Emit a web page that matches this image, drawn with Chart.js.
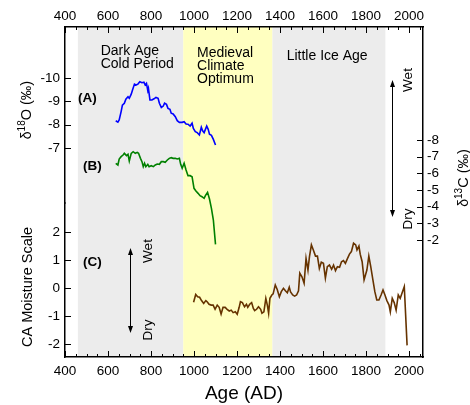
<!DOCTYPE html>
<html>
<head>
<meta charset="utf-8">
<script src="https://cdn.jsdelivr.net/npm/chart.js@4.4.0/dist/chart.umd.min.js"></script>
<style>
  html, body { margin: 0; padding: 0; background: #fff; }
  #wrap { width: 470px; height: 405px; }
</style>
</head>
<body>
<div id="wrap"><canvas id="chart" width="470" height="405"></canvas></div>
<script>
// Values
const xTickLabels = [400, 600, 800, 1000, 1200, 1400, 1600, 1800, 2000];

// (A) delta 18O
const o18Years = [636, 646, 652, 661, 667, 676, 683, 693, 699, 708, 714, 723, 730, 739, 748, 758, 767, 773, 779, 785,
  788, 795, 804, 814, 823, 833, 839, 848, 857, 863, 872, 879, 888, 894, 903, 913, 922, 932, 945, 954,
  963, 972, 982, 991, 997, 1006, 1015, 1025, 1034, 1040, 1047, 1053, 1059, 1066, 1072, 1081, 1090, 1100];
const o18Values = [-8.17, -8.11, -8.20, -8.56, -8.84, -8.92, -9.09, -9.20, -9.13, -9.31, -9.49, -9.74, -9.70, -9.74, -9.84, -9.80, -9.82, -9.70, -9.77, -9.46,
  -9.56, -9.06, -9.06, -9.11, -9.17, -9.13, -8.92, -8.74, -8.80, -8.92, -8.87, -8.70, -8.66, -8.49, -8.46, -8.34, -8.17, -8.10, -8.10, -8.13,
  -8.03, -8.02, -7.94, -8.06, -7.84, -7.70, -7.66, -7.56, -7.89, -7.74, -7.66, -7.80, -7.94, -7.80, -7.59, -7.54, -7.37, -7.13];

// (B) delta 13C
const c13Years = [636, 646, 652, 661, 670, 676, 686, 693, 699, 708, 717, 727, 736, 742, 751, 758, 764, 770, 776, 785,
  791, 801, 811, 820, 829, 839, 848, 857, 866, 876, 885, 894, 903, 913, 922, 932, 938, 945, 954, 963,
  972, 982, 991, 1000, 1009, 1019, 1028, 1037, 1047, 1053, 1063, 1072, 1081, 1090, 1100];
const c13Values = [-6.60, -6.50, -6.86, -7.00, -7.10, -7.20, -7.06, -7.14, -6.74, -7.20, -7.30, -7.20, -7.26, -7.20, -6.90, -6.70, -6.40, -6.60, -6.40, -6.54,
  -6.40, -6.46, -6.40, -6.50, -6.56, -6.54, -6.70, -6.70, -6.66, -6.80, -6.90, -6.94, -6.90, -6.90, -6.86, -6.90, -6.54, -6.30, -6.60, -6.20,
  -5.86, -5.86, -5.80, -5.10, -4.94, -4.80, -4.66, -4.60, -4.50, -4.66, -4.86, -4.46, -3.90, -3.20, -1.74];

// (C) CA moisture scale
const moistYears = [998, 1008, 1017, 1026, 1035, 1045, 1055, 1061, 1070, 1080, 1089, 1098, 1108, 1117, 1126, 1135, 1145, 1154, 1164, 1173,
  1182, 1192, 1201, 1210, 1216, 1225, 1235, 1244, 1250, 1259, 1268, 1276, 1282, 1291, 1300, 1310, 1316, 1325, 1334, 1341,
  1347, 1353, 1362, 1368, 1378, 1387, 1397, 1406, 1416, 1425, 1434, 1443, 1449, 1459, 1468, 1477, 1486, 1492, 1502, 1512,
  1521, 1530, 1537, 1546, 1555, 1565, 1574, 1583, 1592, 1602, 1611, 1620, 1630, 1640, 1649, 1658, 1667, 1677, 1686, 1695,
  1704, 1714, 1723, 1732, 1742, 1752, 1758, 1767, 1773, 1782, 1791, 1804, 1813, 1822, 1832, 1841, 1850, 1860, 1870, 1879,
  1888, 1897, 1907, 1913, 1922, 1931, 1940, 1950, 1959, 1968, 1978, 1991];
const moistValues = [-0.51, -0.23, -0.31, -0.33, -0.45, -0.55, -0.45, -0.49, -0.58, -0.61, -0.61, -0.76, -0.61, -0.69, -0.93, -0.69, -0.69, -0.76, -0.82, -0.79,
  -0.88, -0.85, -0.94, -0.69, -0.49, -0.52, -0.67, -0.58, -0.69, -0.58, -0.52, -0.73, -0.81, -0.76, -0.67, -0.76, -0.90, -0.85, -0.37, -0.61,
  -0.90, -0.37, -0.25, -0.21, 0.11, -0.05, -0.31, -0.13, -0.01, -0.10, -0.17, 0.03, -0.14, -0.25, -0.29, -0.25, -0.10, 0.53, 0.40, 0.17,
  1.06, 0.64, 1.12, 1.54, 1.36, 1.14, 1.14, 0.70, 0.92, 0.88, 0.35, 0.76, 0.82, 0.67, 0.82, 0.62, 0.76, 0.74, 0.94, 0.98,
  0.88, 1.06, 1.21, 1.30, 1.60, 1.54, 1.36, 1.50, 1.21, 0.94, 0.29, 0.64, 1.14, 0.76, 0.29, -0.13, -0.43, -0.43, -0.25, -0.07,
  -0.25, -0.45, -0.61, -0.85, -0.37, -0.52, -0.79, -0.25, -0.37, -0.17, 0.05, -2.05];

const o18Ticks = [-10, -9, -8, -7];
const c13Ticks = [-8, -7, -6, -5, -4, -3, -2];
const moistTicks = [-2, -1, 0, 1, 2];

// climate periods (shaded bands)
const periodStarts = [460, 950, 1365];
const periodEnds = [950, 1365, 1890];
const periodNames = [['Dark Age', 'Cold Period'], ['Medieval', 'Climate', 'Optimum'], ['Little Ice Age']];

const FONT = '"Liberation Sans", Arial, Helvetica, sans-serif';
Chart.defaults.font.family = FONT;
Chart.defaults.color = '#000';

function range(a, b, step) {
    const out = [];
    for (let v = a; v <= b + 1e-9; v += step) out.push(Math.round(v * 100) / 100);
    return out;
}

function points(xs, ys) {
    return xs.map((x, i) => ({ x: x, y: ys[i] }));
}

const frame = { display: true, color: '#000', width: 1.5 };
const noGrid = { display: false, drawTicks: false };
const tickFont = { size: 13.5 };

// shaded period bands behind everything
const bandsPlugin = {
    id: 'bands',
    beforeDraw(chart) {
        const { ctx, chartArea: a, scales: { x } } = chart;
        const colors = ['#ececec', '#ffffc0', '#ececec'];
        ctx.save();
        ctx.fillStyle = '#fff';
        ctx.fillRect(0, 0, chart.width, chart.height);
        periodStarts.forEach((s, i) => {
            const x0 = x.getPixelForValue(s);
            const x1 = x.getPixelForValue(periodEnds[i]);
            ctx.fillStyle = colors[i];
            ctx.fillRect(x0, a.top, x1 - x0, a.bottom - a.top);
        });
        ctx.restore();
    }
};

// tick marks pointing into the plot
const inwardTicksPlugin = {
    id: 'inwardTicks',
    afterDraw(chart) {
        const { ctx, chartArea: a } = chart;
        ctx.save();
        ctx.strokeStyle = '#000';
        ctx.lineWidth = 1;
        ['x', 'x2', 'yA', 'yB', 'yC'].forEach(id => {
            const s = chart.scales[id];
            s.ticks.forEach(t => {
                const len = t.label !== '' ? 6 : 3;
                const p = Math.round(s.getPixelForValue(t.value)) + 0.5;
                ctx.beginPath();
                if (s.position === 'bottom') { ctx.moveTo(p, a.bottom); ctx.lineTo(p, a.bottom - len); }
                else if (s.position === 'top') { ctx.moveTo(p, a.top); ctx.lineTo(p, a.top + len); }
                else if (s.position === 'left') { ctx.moveTo(a.left, p); ctx.lineTo(a.left + len, p); }
                else { ctx.moveTo(a.right, p); ctx.lineTo(a.right - len, p); }
                ctx.stroke();
            });
        });
        ctx.restore();
    }
};

function drawVertical(ctx, cx, cy, parts) {
    // parts: [text, size, raise]; text reads bottom to top, baseline at cx
    ctx.save();
    ctx.translate(cx, cy);
    ctx.rotate(-Math.PI / 2);
    ctx.textBaseline = 'alphabetic';
    ctx.textAlign = 'left';
    let total = 0;
    parts.forEach(p => { ctx.font = p[1] + 'px ' + FONT; total += ctx.measureText(p[0]).width; });
    let pos = -total / 2;
    parts.forEach(p => {
        ctx.font = p[1] + 'px ' + FONT;
        ctx.fillText(p[0], pos, -p[2]);
        pos += ctx.measureText(p[0]).width;
    });
    ctx.restore();
}

function drawArrow(ctx, x, y0, y1) {
    ctx.beginPath();
    ctx.moveTo(x + 0.5, y0 + 4);
    ctx.lineTo(x + 0.5, y1 - 4);
    ctx.stroke();
    ctx.beginPath();
    ctx.moveTo(x + 0.5, y0); ctx.lineTo(x - 2, y0 + 7); ctx.lineTo(x + 3, y0 + 7); ctx.closePath();
    ctx.moveTo(x + 0.5, y1); ctx.lineTo(x - 2, y1 - 7); ctx.lineTo(x + 3, y1 - 7); ctx.closePath();
    ctx.fill();
}

// period names, panel letters, axis titles and wet/dry arrows
const annotationsPlugin = {
    id: 'annotations',
    afterDraw(chart) {
        const { ctx, scales: { x } } = chart;
        ctx.save();
        ctx.fillStyle = '#000';
        ctx.strokeStyle = '#000';
        ctx.lineWidth = 1;
        ctx.textBaseline = 'alphabetic';
        ctx.textAlign = 'left';

        ctx.font = '14px ' + FONT;
        const labelX = [566, 1014, 1431];
        const labelY = [55, 57, 60];
        periodNames.forEach((lines, i) => {
            lines.forEach((txt, j) => ctx.fillText(txt, x.getPixelForValue(labelX[i]), labelY[i] + j * 13));
        });

        ctx.font = 'bold 13.5px ' + FONT;
        ctx.fillText('(A)', 78, 102);
        ctx.fillText('(B)', 83, 170);
        ctx.fillText('(C)', 83, 266);

        drawVertical(ctx, 31, 110, [['δ', 14, 0], ['18', 10, 6], ['O (‰)', 14.5, 0]]);
        drawVertical(ctx, 32, 287, [['CA Moisture Scale', 14.5, 0]]);
        drawVertical(ctx, 468, 178, [['δ', 14, 0], ['13', 10, 6], ['C (‰)', 14.5, 0]]);

        drawArrow(ctx, 392, 80, 217);
        drawArrow(ctx, 130, 248, 333);
        drawVertical(ctx, 412, 80, [['Wet', 13.5, 0]]);
        drawVertical(ctx, 412, 219, [['Dry', 13.5, 0]]);
        drawVertical(ctx, 152, 251, [['Wet', 13.5, 0]]);
        drawVertical(ctx, 152, 330, [['Dry', 13.5, 0]]);
        ctx.restore();
    }
};

const xTicks = {
    autoSkip: false, maxRotation: 0, font: tickFont, color: '#000',
    callback: v => xTickLabels.includes(v) ? String(v) : ''
};

new Chart(document.getElementById('chart'), {
    type: 'line',
    data: {
        datasets: [
            { label: 'd18O', data: points(o18Years, o18Values), xAxisID: 'x', yAxisID: 'yA',
              borderColor: '#0000ff', borderWidth: 1.6, pointRadius: 0, tension: 0 },
            { label: 'd13C', data: points(c13Years, c13Values), xAxisID: 'x', yAxisID: 'yB',
              borderColor: '#008000', borderWidth: 1.6, pointRadius: 0, tension: 0 },
            { label: 'moisture', data: points(moistYears, moistValues), xAxisID: 'x', yAxisID: 'yC',
              borderColor: '#663300', borderWidth: 1.6, pointRadius: 0, tension: 0 }
        ]
    },
    options: {
        responsive: false,
        animation: false,
        events: [],
        layout: { padding: 0 },
        plugins: { legend: { display: false }, tooltip: { enabled: false } },
        scales: {
            x: {
                type: 'linear', position: 'bottom', min: 400, max: 2065,
                grid: noGrid, border: frame,
                afterBuildTicks: s => { s.ticks = range(400, 2050, 50).map(v => ({ value: v })); },
                afterFit: s => { s.height = 48; },
                ticks: Object.assign({ padding: 6 }, xTicks),
                title: { display: true, text: 'Age (AD)', font: { size: 19 }, color: '#000', padding: 0 }
            },
            x2: {
                type: 'linear', position: 'top', min: 400, max: 2065,
                grid: noGrid, border: frame,
                afterBuildTicks: s => { s.ticks = range(400, 2050, 50).map(v => ({ value: v })); },
                afterFit: s => { s.height = 27; },
                ticks: Object.assign({ padding: 3 }, xTicks)
            },
            yA: {
                type: 'linear', position: 'left', stack: 'left', stackWeight: 176, weight: 2,
                reverse: true, min: -12.19, max: -4.64,
                grid: noGrid, border: frame,
                afterBuildTicks: s => { s.ticks = o18Ticks.map(v => ({ value: v })); },
                afterFit: s => { s.width = 65; },
                ticks: { font: tickFont, color: '#000', padding: 5, callback: v => String(v) }
            },
            yC: {
                type: 'linear', position: 'left', stack: 'left', stackWeight: 154, weight: 1,
                min: -2.464, max: 3.036,
                grid: noGrid, border: frame,
                afterBuildTicks: s => { s.ticks = range(-2, 2, 0.5).map(v => ({ value: v })); },
                afterFit: s => { s.width = 65; },
                ticks: { font: tickFont, color: '#000', padding: 5,
                         callback: v => moistTicks.includes(v) ? String(v) : '' }
            },
            yB: {
                type: 'linear', position: 'right', reverse: true, min: -14.78, max: 5.02,
                grid: noGrid, border: frame,
                afterBuildTicks: s => { s.ticks = c13Ticks.map(v => ({ value: v })); },
                afterFit: s => { s.width = 47; },
                ticks: { font: tickFont, color: '#000', padding: 4, callback: v => String(v) }
            }
        }
    },
    plugins: [bandsPlugin, inwardTicksPlugin, annotationsPlugin]
});
</script>
</body>
</html>
